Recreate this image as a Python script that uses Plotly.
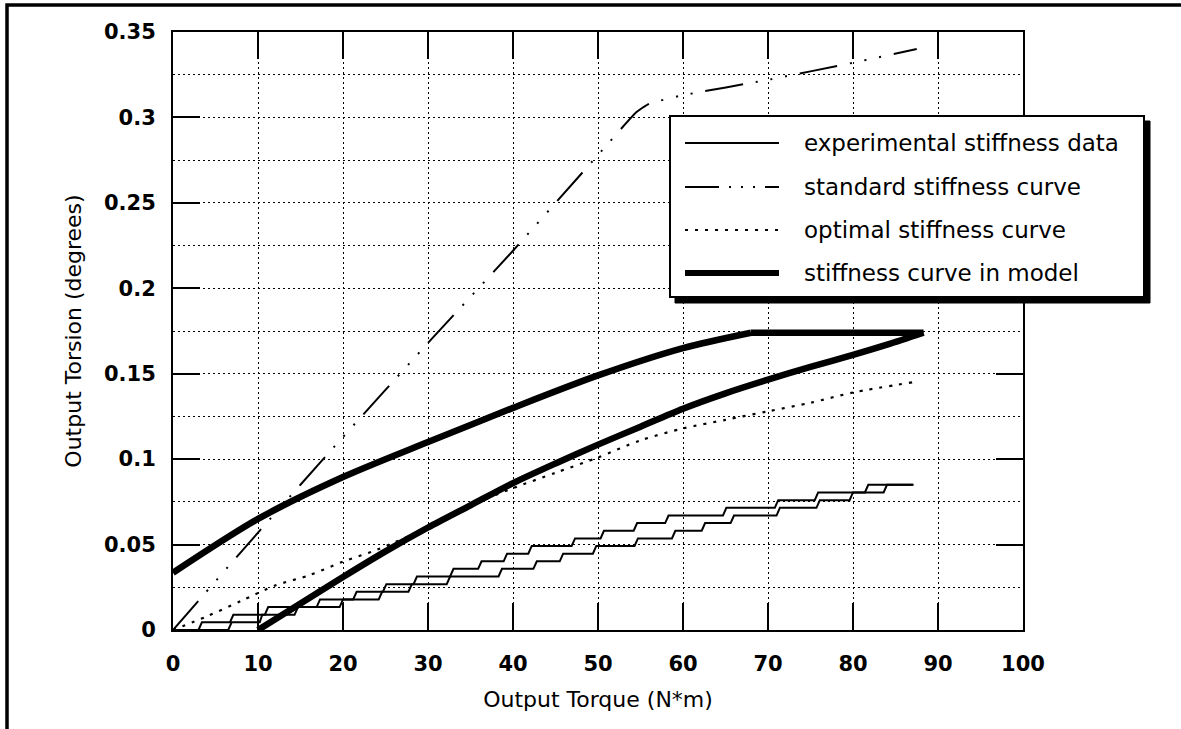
import plotly.graph_objects as go

# ---------------- data ----------------
# standard stiffness curve
std_x = [0, 10, 20, 30, 40, 50, 54.5, 56, 60, 70, 80, 87.5]
std_y = [0, 0.057, 0.113, 0.168, 0.222, 0.278, 0.303, 0.308, 0.313, 0.322, 0.332, 0.340]

# optimal stiffness curve
opt_x = [0, 4, 8, 12, 16, 20, 24, 30, 36.5, 40, 45, 50, 55, 60, 65, 70, 75, 80, 87]
opt_y = [0, 0.008, 0.017, 0.026, 0.032, 0.040, 0.047, 0.060, 0.076, 0.083, 0.092,
         0.101, 0.111, 0.118, 0.123, 0.128, 0.133, 0.139, 0.145]

# stiffness curve in model: rising upper branch, flat top, lower branch
mod_up_x = [0, 10, 20, 30, 40, 50, 60, 68]
mod_up_y = [0.0335, 0.065, 0.0895, 0.110, 0.130, 0.149, 0.165, 0.174]
mod_top_x = [68, 88.3]
mod_top_y = [0.174, 0.174]
mod_lo_x = [88.3, 84, 80, 75, 70, 65, 60, 55, 50, 45, 40, 35, 30, 25, 20, 15, 10]
mod_lo_y = [0.174, 0.167, 0.161, 0.154, 0.1465, 0.1385, 0.1295, 0.119, 0.1085, 0.0975,
            0.086, 0.073, 0.060, 0.046, 0.031, 0.0155, 0.0]

# experimental stiffness data: quantised torsion levels and the torque span of each tread
exp_levels = [0, 0.0045, 0.0089, 0.0134, 0.0179, 0.0224, 0.0268, 0.0313, 0.0358, 0.0402,
              0.0447, 0.0492, 0.0536, 0.0581, 0.0626, 0.0670, 0.0715, 0.0760, 0.0805, 0.0850]
expA_start = [0, 3.4, 7.1, 11.2, 17.3, 21.6, 25.1, 28.7, 33.0, 36.3,
              39.3, 42.2, 47.3, 50.7, 54.6, 58.3, 65.1, 71.2, 75.9, 81.8]
expA_end = [3.0, 6.7, 10.8, 16.9, 21.2, 24.7, 28.3, 32.6, 35.9, 38.9,
            41.8, 46.9, 50.3, 54.2, 57.9, 64.7, 70.8, 75.5, 81.4, 87.1]
expB_start = [0, 6.9, 10.5, 14.7, 20.0, 24.6, 28.1, 32.6, 38.7, 42.8,
              45.9, 49.8, 54.7, 59.1, 62.6, 66.0, 71.4, 76.1, 80.0, 84.0]
expB_end = [6.5, 10.2, 14.3, 19.6, 24.2, 27.7, 32.2, 38.3, 42.4, 45.5,
            49.4, 54.3, 58.7, 62.2, 65.6, 71.0, 75.7, 79.6, 83.6, 87.1]

legend_labels = ["experimental stiffness data", "standard stiffness curve",
                 "optimal stiffness curve", "stiffness curve in model"]

x_title = "Output Torque (N*m)"
y_title = "Output Torsion (degrees)"

# ---------------- styling ----------------
FONT = "DejaVu Sans"
W, H = 1181, 729
ML, MR, MT, MB = 173, 158, 32, 99
PW, PH = W - ML - MR, H - MT - MB

STD_DASH = "38px,13px,2px,13px,2px,13px,2px,13px"
OPT_DASH = "3px,7px"
LEG_STD_DASH = "34px,10px,2px,10px,2px,10px,2px,10px"
THICK = 6.5


def px(xp):
    return (xp - ML) / PW


def py(yp):
    return (H - MB - yp) / PH


def stairs(starts, ends, levels):
    xs, ys = [], []
    for s, e, v in zip(starts, ends, levels):
        xs += [s, e]
        ys += [v, v]
    return xs, ys


fig = go.Figure()

ax, ay = stairs(expA_start, expA_end, exp_levels)
bx, by = stairs(expB_start, expB_end, exp_levels)
fig.add_trace(go.Scatter(x=ax, y=ay, mode="lines", name=legend_labels[0],
                         line=dict(color="black", width=2), showlegend=False))
fig.add_trace(go.Scatter(x=bx, y=by, mode="lines", name=legend_labels[0],
                         line=dict(color="black", width=2), showlegend=False))
fig.add_trace(go.Scatter(x=std_x, y=std_y, mode="lines", name=legend_labels[1],
                         line=dict(color="black", width=2, dash=STD_DASH,
                                   shape="spline", smoothing=0.4), showlegend=False))
fig.add_trace(go.Scatter(x=opt_x, y=opt_y, mode="lines", name=legend_labels[2],
                         line=dict(color="black", width=2.2, dash=OPT_DASH,
                                   shape="spline", smoothing=0.8), showlegend=False))
fig.add_trace(go.Scatter(x=mod_up_x, y=mod_up_y, mode="lines", name=legend_labels[3],
                         line=dict(color="black", width=THICK, shape="spline", smoothing=0.8),
                         showlegend=False))
fig.add_trace(go.Scatter(x=mod_top_x, y=mod_top_y, mode="lines", name=legend_labels[3],
                         line=dict(color="black", width=THICK), showlegend=False))
fig.add_trace(go.Scatter(x=mod_lo_x, y=mod_lo_y, mode="lines", name=legend_labels[3],
                         line=dict(color="black", width=THICK, shape="spline", smoothing=0.8),
                         showlegend=False))

grid = dict(showgrid=True, gridcolor="black", gridwidth=1, griddash="2px,3px")

fig.update_xaxes(range=[0, 100], dtick=10, tick0=0, **grid,
                 showline=True, linecolor="black", linewidth=2, mirror="ticks",
                 ticks="inside", ticklen=27, tickwidth=2, tickcolor="black",
                 ticklabelstandoff=14, zeroline=False,
                 tickfont=dict(family=FONT, size=21, color="black", weight="bold"),
                 title=dict(text=x_title, standoff=16,
                            font=dict(family=FONT, size=22, color="black")))
fig.update_yaxes(range=[0, 0.35], dtick=0.05, tick0=0, **grid,
                 minor=dict(dtick=0.025, showgrid=True, gridcolor="black",
                            gridwidth=1, griddash="2px,3px", ticks=""),
                 showline=True, linecolor="black", linewidth=2, mirror="ticks",
                 ticks="inside", ticklen=27, tickwidth=2, tickcolor="black",
                 ticklabelstandoff=11, zeroline=False,
                 tickfont=dict(family=FONT, size=21, color="black", weight="bold"),
                 title=dict(text=y_title, standoff=16,
                            font=dict(family=FONT, size=22, color="black")))

shapes = []
# outer page frame
shapes.append(dict(type="rect", xref="paper", yref="paper",
                   x0=px(7), x1=px(1300), y0=py(5), y1=py(800),
                   line=dict(color="black", width=3.5), layer="above"))
# legend box with drop shadow
shapes.append(dict(type="rect", xref="paper", yref="paper",
                   x0=px(675), x1=px(1150), y0=py(121), y1=py(303),
                   fillcolor="black", line=dict(color="black", width=1), layer="above"))
shapes.append(dict(type="rect", xref="paper", yref="paper",
                   x0=px(670), x1=px(1144), y0=py(116), y1=py(297),
                   fillcolor="white", line=dict(color="black", width=2), layer="above"))

rows = [143, 187, 230, 273]
samples = [dict(color="black", width=2),
           dict(color="black", width=2, dash=LEG_STD_DASH),
           dict(color="black", width=2, dash=OPT_DASH),
           dict(color="black", width=6)]
annotations = []
for r, ln, lab in zip(rows, samples, legend_labels):
    shapes.append(dict(type="line", xref="paper", yref="paper",
                       x0=px(685), x1=px(779), y0=py(r), y1=py(r),
                       line=ln, layer="above"))
    annotations.append(dict(xref="paper", yref="paper", x=px(802), y=py(r),
                            text=lab, showarrow=False, xanchor="left", yanchor="middle",
                            font=dict(family=FONT, size=23, color="black")))

fig.update_layout(width=W, height=H,
                  margin=dict(l=ML, r=MR, t=MT, b=MB, pad=0),
                  paper_bgcolor="white", plot_bgcolor="white",
                  shapes=shapes, annotations=annotations, showlegend=False,
                  hovermode=False,
                  font=dict(family=FONT, color="black"))

fig.write_html("out.html", config={"displayModeBar": False},
               post_script="document.body.style.margin='0px';document.body.style.overflow='hidden';")
